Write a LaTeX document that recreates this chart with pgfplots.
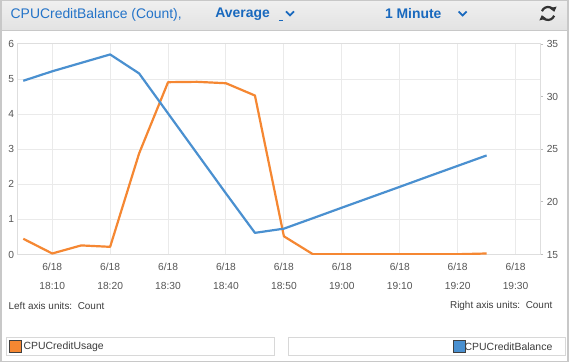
\documentclass[border=0pt]{standalone}
\usepackage{pgfplots}
\pgfplotsset{compat=1.18}
\usepackage{fontspec}
\setmainfont{Liberation Sans}
\usetikzlibrary{arrows.meta}
\definecolor{cwOrange}{RGB}{245,135,50}
\definecolor{cwBlue}{RGB}{74,144,208}
\definecolor{hdrBlue}{RGB}{35,115,200}
\definecolor{hdrBlueB}{RGB}{25,105,190}
\definecolor{gridc}{RGB}{234,234,234}
\definecolor{axc}{RGB}{222,222,222}
\definecolor{tickc}{RGB}{85,85,85}
\definecolor{hdrTop}{RGB}{240,240,240}
\definecolor{hdrBot}{RGB}{226,226,226}
\definecolor{framec}{RGB}{200,200,200}
\definecolor{legc}{RGB}{216,216,216}
\definecolor{txtc}{RGB}{60,60,60}

\pgfplotstableread{
t usage
5 0.45
10 0.03
15 0.26
20 0.22
25 2.88
30 4.91
35 4.92
40 4.88
45 4.53
50 0.52
55 0.01
60 0.01
65 0.01
70 0.01
75 0.01
80 0.01
85 0.03
}\usagedata

\pgfplotstableread{
t balance
5 31.5
10 32.4
15 33.2
20 34.0
25 32.2
30 28.4
35 24.6
40 20.8
45 17.06
50 17.46
55 18.45
60 19.45
65 20.44
70 21.43
75 22.43
80 23.42
85 24.41
}\balancedata

\begin{document}
\begin{tikzpicture}
% background
\fill[white] (0,0) rectangle (569bp,363bp);
% header bar
\shade[top color=hdrTop, bottom color=hdrBot] (0,332bp) rectangle (569bp,363bp);
\draw[framec, line width=1bp] (0,332bp) -- (569bp,332bp);
\node[anchor=west, inner sep=0, text=hdrBlue, font=\fontsize{14}{16}\selectfont] at (10bp,348.5bp) {CPUCreditBalance (Count),};
\node[anchor=west, inner sep=0, text=hdrBlueB, font=\fontsize{14}{16}\selectfont\bfseries] at (215bp,349bp) {Average};
\draw[hdrBlueB, line width=1bp] (279bp,342.5bp) -- (283bp,342.5bp);
\draw[hdrBlueB, line width=1.8bp] (286bp,351.5bp) -- (290bp,347.5bp) -- (294bp,351.5bp);
\node[anchor=west, inner sep=0, text=hdrBlueB, font=\fontsize{14}{16}\selectfont\bfseries] at (385bp,349bp) {1 Minute};
\draw[hdrBlueB, line width=1.8bp] (459bp,351.5bp) -- (463bp,347.5bp) -- (467bp,351.5bp);
% refresh icon
\draw[black!80, line width=2.2bp, -{Triangle[length=4.5bp,width=7bp]}] (548.5bp,349.5bp) ++(160:6.5bp) arc[start angle=160, end angle=15, radius=6.5bp];
\draw[black!80, line width=2.2bp, -{Triangle[length=4.5bp,width=7bp]}] (548.5bp,349.5bp) ++(340:6.5bp) arc[start angle=340, end angle=195, radius=6.5bp];

% left axis
\begin{axis}[
  at={(17bp,108bp)}, anchor=south west,
  scale only axis, width=523.7bp, height=211bp,
  xmin=4, xmax=94.26, ymin=0, ymax=6,
  xtick={10,20,...,90},
  xticklabels={{6/18\\18:10},{6/18\\18:20},{6/18\\18:30},{6/18\\18:40},{6/18\\18:50},{6/18\\19:00},{6/18\\19:10},{6/18\\19:20},{6/18\\19:30}},
  ytick={0,1,...,6},
  grid=major,
  major grid style={draw=gridc, line width=1bp},
  axis line style={draw=axc, line width=1bp},
  tick style={draw=none},
  ticklabel style={text=tickc, font=\fontsize{10.3}{19.5}\selectfont},
  xticklabel style={align=center, yshift=-5bp},
  /pgf/number format/assume math mode=true,
]
\addplot[cwOrange, line width=2.2bp, line join=round, no marks] table[x=t, y=usage] {\usagedata};
\end{axis}

% right axis
\begin{axis}[
  at={(17bp,108bp)}, anchor=south west,
  scale only axis, width=523.7bp, height=211bp,
  xmin=4, xmax=94.26, ymin=15, ymax=35,
  axis x line=none,
  axis y line*=right,
  ytick={15,20,...,35},
  tick align=outside,
  major tick length=3bp,
  tick style={draw=axc!85!black, line width=0.8bp},
  y axis line style={draw=axc, line width=1bp},
  ticklabel style={text=tickc, font=\fontsize{10.3}{12}\selectfont},
  /pgf/number format/assume math mode=true,
]
\addplot[cwBlue, line width=2.2bp, line join=round, no marks] table[x=t, y=balance] {\balancedata};
\end{axis}

% axis unit texts
\node[anchor=west, inner sep=0, text=txtc, font=\fontsize{10}{12}\selectfont] at (8bp,57bp) {Left axis units:\ \ Count};
\node[anchor=east, inner sep=0, text=txtc, font=\fontsize{10}{12}\selectfont] at (553bp,57bp) {Right axis units:\ \ Count};

% legend boxes
\draw[legc, line width=1bp, fill=white] (6.5bp,7bp) rectangle (274.5bp,25bp);
\draw[black!75, line width=1bp, fill=cwOrange] (9.5bp,10bp) rectangle (21.5bp,22bp);
\node[anchor=west, inner sep=0, text=txtc, font=\fontsize{10.5}{12}\selectfont] at (23bp,16bp) {CPUCreditUsage};
\draw[legc, line width=1bp, fill=white] (289bp,7bp) rectangle (566bp,25bp);
\draw[black!75, line width=1bp, fill=cwBlue] (453.5bp,10bp) rectangle (465.5bp,22bp);
\node[anchor=east, inner sep=0, text=txtc, font=\fontsize{10.5}{12}\selectfont] at (553bp,16bp) {CPUCreditBalance};

% outer frame
\draw[framec, line width=1.5bp] (0.75bp,0.75bp) rectangle (568.25bp,362.25bp);
\end{tikzpicture}
\end{document}
